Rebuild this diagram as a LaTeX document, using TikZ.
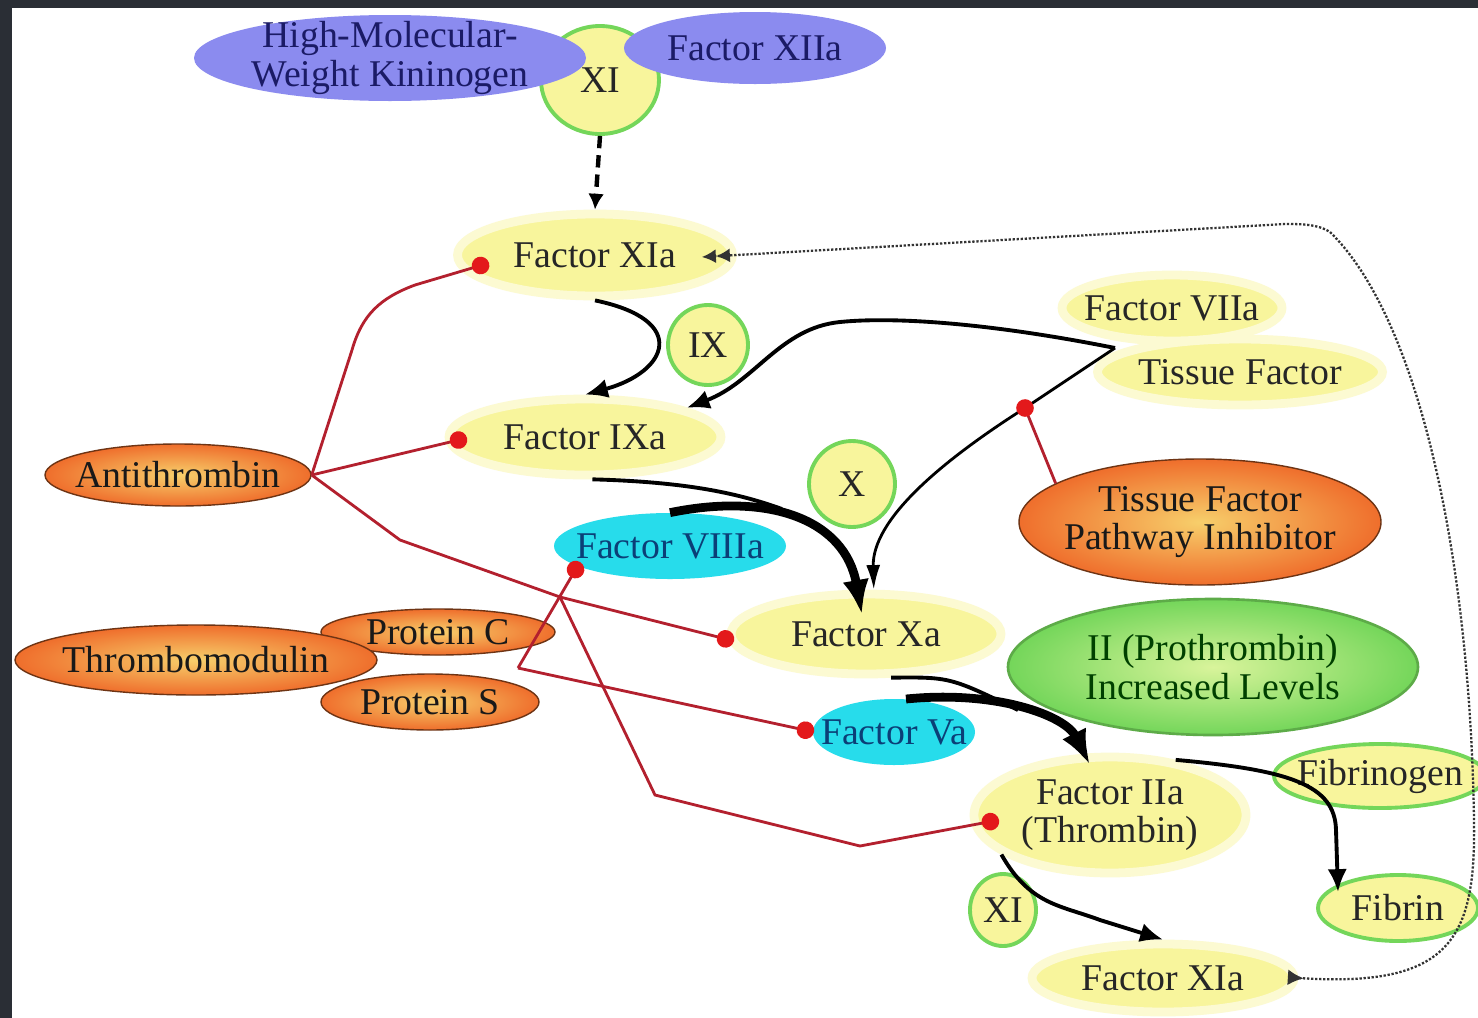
\documentclass[tikz,border=0pt]{standalone}
\usepackage{fontspec}
\setmainfont{Liberation Serif}
\usepackage{tikz}
\usetikzlibrary{arrows.meta,shapes.geometric}
\definecolor{cascyellow}{HTML}{F8F59C}
\definecolor{cascblue}{HTML}{8B8BEF}
\definecolor{cascnavy}{HTML}{1B1B66}
\definecolor{casccyan}{HTML}{27DCEB}
\definecolor{casccyantext}{HTML}{0B3F77}
\definecolor{cascorange}{HTML}{EF6E2C}
\definecolor{cascpeach}{HTML}{F7CF6B}
\definecolor{cascbrown}{HTML}{6E3414}
\definecolor{cascgreen}{HTML}{74D65A}
\definecolor{casclime}{HTML}{D9F49B}
\definecolor{cascred}{HTML}{B3202E}
\definecolor{cascdot}{HTML}{E3191B}
\definecolor{cascframe}{HTML}{2A2E35}

\begin{document}
\begin{tikzpicture}[
  x=0.02cm,y=-0.02cm,
  >=Latex,
  font=\fontsize{21.5}{22}\selectfont,
  blob/.style={ellipse,inner sep=-40pt,align=center},
  dims/.style 2 args={minimum width=#1*0.02cm,minimum height=#2*0.02cm},
  enzyme/.style={blob,fill=cascyellow,draw=cascyellow!45,line width=5pt,text=black!85},
  zymogen/.style={blob,fill=cascyellow,draw=cascgreen,line width=2.2pt,text=black!85},
  contact/.style={blob,fill=cascblue,text=cascnavy},
  cofactor/.style={blob,fill=casccyan,text=casccyantext},
  inhibitor/.style={blob,draw=cascbrown,line width=0.8pt,inner color=cascpeach,outer color=cascorange,text=black!90},
  raised/.style={blob,draw=cascgreen!80!black,line width=1.5pt,inner color=casclime,outer color=cascgreen,text=green!25!black},
  flow/.style={->,line width=2.2pt,>={Latex[length=13pt,width=11pt]}},
  thinflow/.style={->,line width=1.6pt,>={Latex[length=14pt,width=8pt]}},
  boost/.style={->,line width=5pt,>={Latex[length=20pt,width=15pt]}},
  dashflow/.style={->,line width=2.5pt,dash pattern=on 7pt off 4pt,>={Latex[length=9pt,width=9pt]}},
  loopflow/.style={densely dotted,line width=1.3pt,draw=black!80,
    {Latex[reversed,length=9pt,width=9pt]}-{Latex[length=8pt,width=8pt] Latex[length=8pt,width=8pt]},
    shorten >=-20pt,shorten <=-6pt},
  inhib/.style={draw=cascred,line width=1.6pt,-{Circle[length=10pt,color=cascdot,fill=cascdot]}}
]
  \useasboundingbox (0,0) rectangle (1478,1018);
  \fill[cascframe] (0,0) rectangle (1478,1018);
  \fill[white] (12,8) rectangle (1478,1018);

  \node[zymogen,dims={118}{108}] (xitop) at (600,80) {\raisebox{-6pt}{XI}};
  \node[contact,dims={392}{86}] (hmwk) at (390,58) {High-Molecular-\\Weight Kininogen};
  \node[contact,dims={262}{72}] (fxiia) at (755,48) {Factor XIIa};
  \node[enzyme,dims={275}{82}] (fxia) at (595,255) {Factor XIa};
  \node[zymogen,dims={80}{80}] (ix) at (708,345) {IX};
  \node[enzyme,dims={272}{76}] (fixa) at (585,437) {Factor IXa};
  \node[enzyme,dims={220}{66}] (fviia) at (1172,308) {Factor VIIa};
  \node[enzyme,dims={285}{66}] (tf) at (1240,372) {Tissue Factor};
  \node[inhibitor,dims={266}{62}] (at) at (178,475) {Antithrombin};
  \node[zymogen,dims={86}{86}] (x) at (852,484) {X};
  \node[inhibitor,dims={362}{126}] (tfpi) at (1200,522) {Tissue Factor\\Pathway Inhibitor};
  \node[cofactor,dims={232}{66}] (fviiia) at (670,546) {Factor VIIIa};
  \node[enzyme,dims={270}{80}] (fxa) at (866,634) {Factor Xa};
  \node[raised,dims={410}{136}] (ii) at (1213,667) {II (Prothrombin)\\Increased Levels};
  \node[inhibitor,dims={234}{46}] (pc) at (438,632) {Protein C};
  \node[inhibitor,dims={218}{56}] (ps) at (430,702) {Protein S};
  \node[inhibitor,dims={362}{70}] (tm) at (196,660) {Thrombomodulin};
  \node[cofactor,dims={162}{66}] (fva) at (894,732) {Factor Va};
  \node[zymogen,dims={212}{64}] (fbg) at (1380,776) {Fibrinogen};
  \node[enzyme,dims={272}{116}] (fiia) at (1110,815) {Factor IIa\\(Thrombin)};
  \node[zymogen,dims={66}{72}] (xibot) at (1003,910) {XI};
  \node[zymogen,dims={160}{66}] (fbn) at (1398,908) {Fibrin};
  \node[enzyme,dims={262}{68}] (fxiab) at (1163,978) {Factor XIa};

  \coordinate (tfv) at (1115,348);
  \coordinate (tfpidot) at (1025,408);
  \coordinate (atbend) at (400,540);
  \coordinate (atbr) at (560,597);
  \coordinate (pcs) at (518,668);

  \draw[dashflow] (xitop.south) -- (fxia.north);
  \draw[loopflow] (fxiab.east) .. controls (1450,988) and (1476,940) .. (1474,820)
    .. controls (1470,560) and (1420,320) .. (1330,232)
    .. controls (1318,224) and (1300,224) .. (1285,224) -- (fxia.east);
  \draw[flow] (fxia.south) .. controls (690,320) and (668,372) .. (fixa.north);
  \draw[flow] (tfv) .. controls (1000,325) and (900,316) .. (840,322)
    .. controls (780,328) and (755,382) .. (fixa.16);
  \draw[thinflow] (tfv) -- (tfpidot) .. controls (940,462) and (872,520) .. (fxa.80);
  \draw[flow,-] (fixa.280) .. controls (690,482) and (740,494) .. (782,509);
  \draw[boost] (fviiia.north) .. controls (770,492) and (845,520) .. ([shift={(-4,-19)}]fxa.center);
  \draw[flow,-] (fxa.300) .. controls (950,677) .. (1018,710);
  \draw[boost] (fva.70) .. controls (995,690) and (1065,715) .. ([shift={(-20,-50)}]fiia.center);
  \draw[flow] (fiia.40) .. controls (1290,770) and (1335,785) .. (1336,830) -- ([shift={(-60,-16)}]fbn.center);
  \draw[flow] (fiia.200) .. controls (1030,905) and (1060,905) .. (1100,920) -- (fxiab.north);

  \draw[inhib] (at.east) -- (352,350) .. controls (362,315) and (380,298) .. (415,285) -- ([shift={(-106,8)}]fxia.center);
  \draw[inhib] (at.east) -- ([shift={(-118,1)}]fixa.center);
  \draw[inhib] (at.east) -- (atbend) -- (atbr) -- ([shift={(-132,7)}]fxa.center);
  \draw[inhib] (atbr) -- (655,795) -- (860,846) -- ([shift={(-111,5)}]fiia.center);
  \draw[inhib] (pcs) -- ([shift={(-90,16)}]fviiia.center);
  \draw[inhib] (pcs) -- ([shift={(-80,0)}]fva.center);
  \draw[inhib,shorten >=-5pt] (tfpi.165) -- (tfpidot);
\end{tikzpicture}
\end{document}
